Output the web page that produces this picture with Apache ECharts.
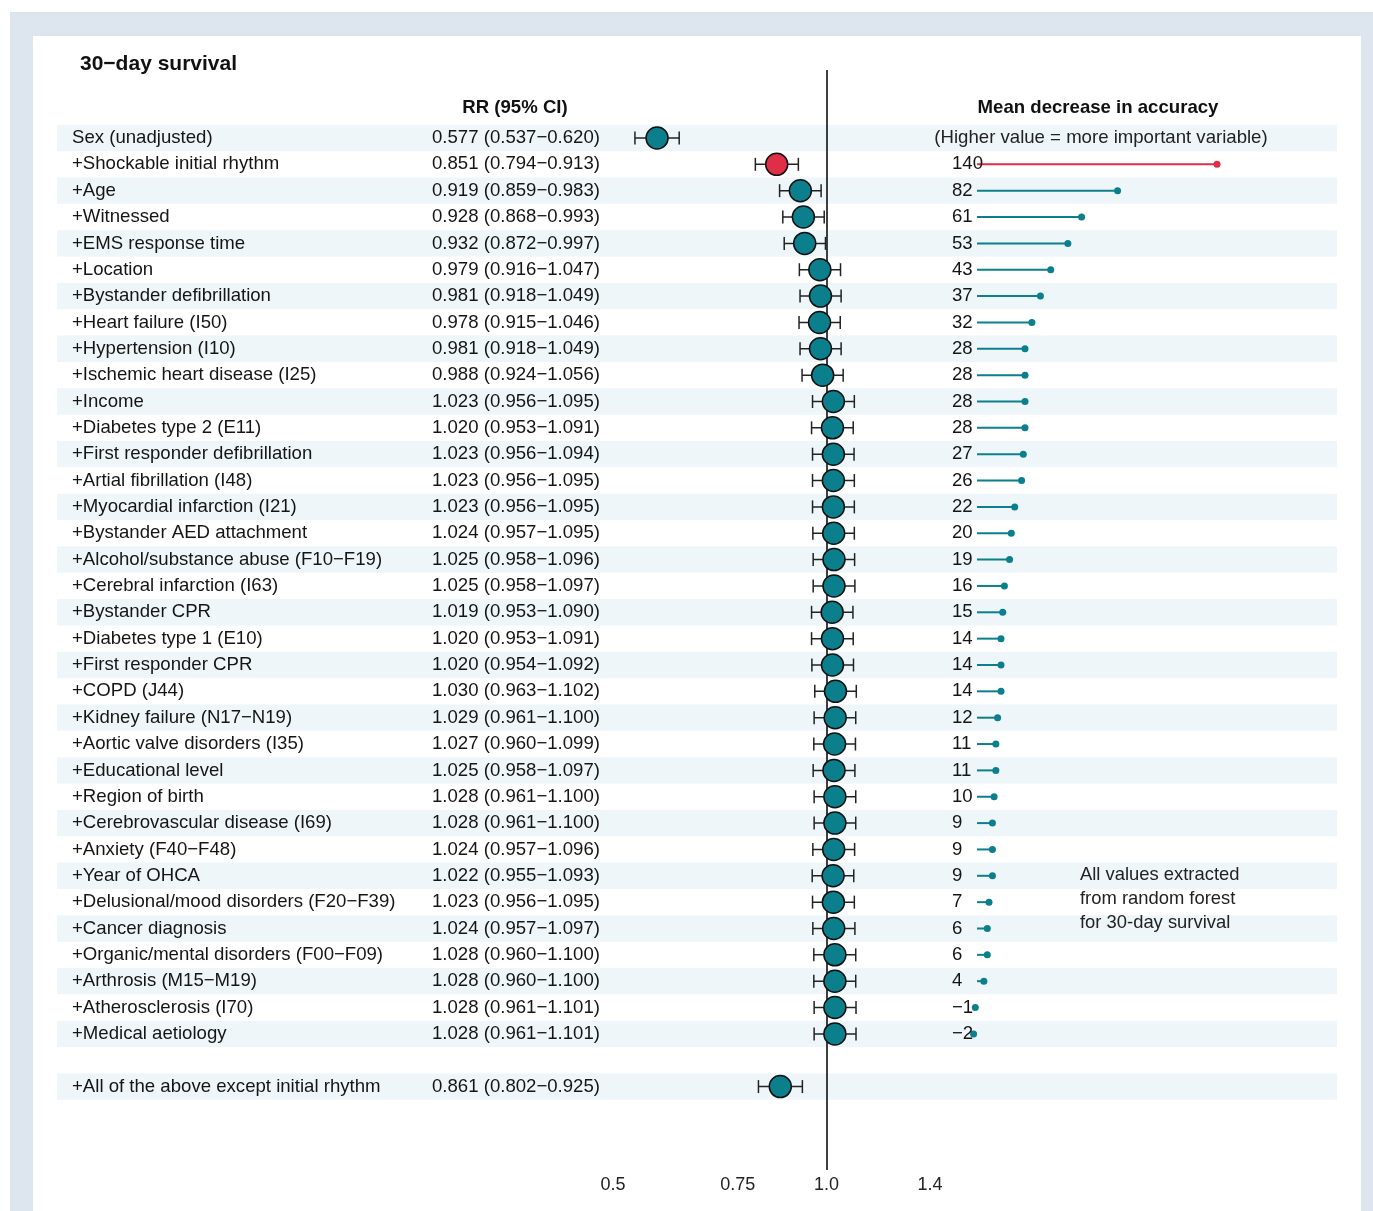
<!DOCTYPE html>
<html>
<head>
<meta charset="utf-8">
<script src="https://cdn.jsdelivr.net/npm/echarts@6/dist/echarts.min.js"></script>
<style>
html,body{margin:0;padding:0;background:#fff;}
#chart{width:1373px;height:1211px;}
</style>
</head>
<body>
<div id="chart"></div>
<script>
// ---------------- DATA ----------------
const variables = [
  'Sex (unadjusted)', '+Shockable initial rhythm', '+Age', '+Witnessed', '+EMS response time',
  '+Location', '+Bystander defibrillation', '+Heart failure (I50)', '+Hypertension (I10)',
  '+Ischemic heart disease (I25)', '+Income', '+Diabetes type 2 (E11)', '+First responder defibrillation',
  '+Artial fibrillation (I48)', '+Myocardial infarction (I21)', '+Bystander AED attachment',
  '+Alcohol/substance abuse (F10\u2212F19)', '+Cerebral infarction (I63)', '+Bystander CPR',
  '+Diabetes type 1 (E10)', '+First responder CPR', '+COPD (J44)', '+Kidney failure (N17\u2212N19)',
  '+Aortic valve disorders (I35)', '+Educational level', '+Region of birth',
  '+Cerebrovascular disease (I69)', '+Anxiety (F40\u2212F48)', '+Year of OHCA',
  '+Delusional/mood disorders (F20\u2212F39)', '+Cancer diagnosis',
  '+Organic/mental disorders (F00\u2212F09)', '+Arthrosis (M15\u2212M19)', '+Atherosclerosis (I70)',
  '+Medical aetiology'
];
const rrEstimate = [0.577,0.851,0.919,0.928,0.932,0.979,0.981,0.978,0.981,0.988,1.023,1.020,1.023,1.023,1.023,1.024,1.025,1.025,1.019,1.020,1.020,1.030,1.029,1.027,1.025,1.028,1.028,1.024,1.022,1.023,1.024,1.028,1.028,1.028,1.028];
const rrLower    = [0.537,0.794,0.859,0.868,0.872,0.916,0.918,0.915,0.918,0.924,0.956,0.953,0.956,0.956,0.956,0.957,0.958,0.958,0.953,0.953,0.954,0.963,0.961,0.960,0.958,0.961,0.961,0.957,0.955,0.956,0.957,0.960,0.960,0.961,0.961];
const rrUpper    = [0.620,0.913,0.983,0.993,0.997,1.047,1.049,1.046,1.049,1.056,1.095,1.091,1.094,1.095,1.095,1.095,1.096,1.097,1.090,1.091,1.092,1.102,1.100,1.099,1.097,1.100,1.100,1.096,1.093,1.095,1.097,1.100,1.100,1.101,1.101];
const meanDecreaseAccuracy = [null,140,82,61,53,43,37,32,28,28,28,28,27,26,22,20,19,16,15,14,14,14,12,11,11,10,9,9,9,7,6,6,4,-1,-2];

const combinedLabel = '+All of the above except initial rhythm';
const combinedRR = [0.861, 0.802, 0.925];   // estimate, lower, upper

const highlightedVariable = '+Shockable initial rhythm';
const rrTicks = [0.5, 0.75, 1.0, 1.4];
const rrTickLabels = ['0.5', '0.75', '1.0', '1.4'];

// ---------------- BUILD ----------------
const TEAL = '#0b7f8c', RED = '#e02d48', INK = '#111';
const FONT = '"Liberation Sans", Arial, Helvetica, sans-serif';
const BODY = '18.6px ' + FONT;
const fmt = v => v.toFixed(3);
const minus = s => String(s).replace('-', '\u2212');

const allLabels = variables.concat([combinedLabel]);
const allRR = rrEstimate.concat([combinedRR[0]]);
const allLo = rrLower.concat([combinedRR[1]]);
const allHi = rrUpper.concat([combinedRR[2]]);
// row index on the vertical scale (one blank row before the combined model)
const rowOf = i => (i < variables.length ? i : i + 1);

const tableData = allLabels.map((_, i) => [0, rowOf(i)]);
const forestData = allRR.map((v, i) => [v, rowOf(i), allLo[i], allHi[i]]);
const mdaData = [];
meanDecreaseAccuracy.forEach((v, i) => { if (v !== null) mdaData.push([v, rowOf(i), i]); });

const yCommon = { type: 'value', inverse: true, min: -2.58, max: 39.165, show: false };
const ROW_H = 26.35;

const option = {
  animation: false,
  backgroundColor: '#fff',
  grid: [
    { left: 57, width: 1280, top: 70, height: 1100 },
    { left: 560, width: 400, top: 70, height: 1100 },
    { left: 960, width: 377, top: 70, height: 1100 }
  ],
  xAxis: [
    { gridIndex: 0, type: 'value', min: 0, max: 1, show: false },
    { gridIndex: 1, type: 'log', logBase: 10, min: 0.421, max: 1.5433,
      axisLine: { show: false }, splitLine: { show: false },
      axisTick: { show: true, inside: true, length: 3, customValues: rrTicks, lineStyle: { color: '#aaaaaa', width: 1 } },
      axisLabel: { show: true, customValues: rrTicks, margin: 6, fontSize: 18, color: '#222', fontFamily: FONT,
        formatter: v => { const k = rrTicks.findIndex(t => Math.abs(t - v) < 1e-6); return k >= 0 ? rrTickLabels[k] : ''; } } },
    { gridIndex: 2, type: 'value', min: -9.917, max: 210, show: false }
  ],
  yAxis: [
    Object.assign({ gridIndex: 0 }, yCommon),
    Object.assign({ gridIndex: 1 }, yCommon),
    Object.assign({ gridIndex: 2 }, yCommon)
  ],
  graphic: { elements: [
    { type: 'rect', z: -20, shape: { x: 10, y: 12, width: 1363, height: 1199 }, style: { fill: '#dde6ef' }, silent: true },
    { type: 'rect', z: -19, shape: { x: 33, y: 36, width: 1328, height: 1175 }, style: { fill: '#ffffff' }, silent: true },
    { type: 'text', z: 50, x: 80, y: 64, style: { text: '30\u2212day survival', font: 'bold 21px ' + FONT, fill: INK, align: 'left', verticalAlign: 'middle' } },
    { type: 'text', z: 50, x: 515, y: 108, style: { text: 'RR (95% CI)', font: 'bold 18.6px ' + FONT, fill: INK, align: 'center', verticalAlign: 'middle' } },
    { type: 'text', z: 50, x: 1098, y: 108, style: { text: 'Mean decrease in accuracy', font: 'bold 18.6px ' + FONT, fill: INK, align: 'center', verticalAlign: 'middle' } },
    { type: 'text', z: 50, x: 1101, y: 138, style: { text: '(Higher value = more important variable)', font: BODY, fill: '#222', align: 'center', verticalAlign: 'middle' } },
    { type: 'text', z: 50, x: 1080, y: 863, style: { text: 'All values extracted\nfrom random forest\nfor 30-day survival', font: '18.4px ' + FONT, lineHeight: 24, fill: '#222', align: 'left', verticalAlign: 'top' } }
  ]},
  series: [
    { // row bands + text columns
      type: 'custom', xAxisIndex: 0, yAxisIndex: 0, z: 1, silent: true,
      data: tableData,
      renderItem: function (params, api) {
        const i = params.dataIndex;
        const row = api.value(1);
        const y = api.coord([0, row])[1];
        const cs = params.coordSys;
        const children = [];
        if (row % 2 === 0) {
          children.push({ type: 'rect', shape: { x: cs.x, y: y - ROW_H / 2, width: cs.width, height: ROW_H }, style: { fill: '#eff6f9' } });
        }
        children.push({ type: 'text', x: cs.x + 15, y: y, style: { text: allLabels[i], font: BODY, fill: '#151515', align: 'left', verticalAlign: 'middle' } });
        children.push({ type: 'text', x: cs.x + 375, y: y, style: { text: fmt(allRR[i]) + ' (' + fmt(allLo[i]) + '\u2212' + fmt(allHi[i]) + ')', font: BODY, fill: '#151515', align: 'left', verticalAlign: 'middle' } });
        return { type: 'group', children: children };
      }
    },
    { // forest plot
      type: 'custom', xAxisIndex: 1, yAxisIndex: 1, z: 5, silent: true,
      data: forestData,
      renderItem: function (params, api) {
        const i = params.dataIndex;
        const row = api.value(1);
        const c = api.coord([api.value(0), row]);
        const xl = api.coord([api.value(2), row])[0];
        const xh = api.coord([api.value(3), row])[0];
        const y = c[1];
        const col = allLabels[i] === highlightedVariable ? RED : TEAL;
        const ls = { stroke: '#222', lineWidth: 1.5 };
        return { type: 'group', children: [
          { type: 'line', shape: { x1: xl, y1: y, x2: xh, y2: y }, style: ls },
          { type: 'line', shape: { x1: xl, y1: y - 6.5, x2: xl, y2: y + 6.5 }, style: ls },
          { type: 'line', shape: { x1: xh, y1: y - 6.5, x2: xh, y2: y + 6.5 }, style: ls },
          { type: 'circle', shape: { cx: c[0], cy: y, r: 11 }, style: { fill: col, stroke: '#111', lineWidth: 1.5 } }
        ]};
      },
      markLine: {
        silent: true, symbol: 'none', label: { show: false },
        lineStyle: { color: '#000', width: 1.5, type: 'solid' },
        data: [{ xAxis: 1 }]
      }
    },
    { // mean decrease in accuracy lollipops
      type: 'custom', xAxisIndex: 2, yAxisIndex: 2, z: 5, silent: true,
      data: mdaData,
      renderItem: function (params, api) {
        const v = api.value(0), row = api.value(1), src = api.value(2);
        const p0 = api.coord([0, row]);
        const p1 = api.coord([v, row]);
        const col = variables[src] === highlightedVariable ? RED : TEAL;
        return { type: 'group', children: [
          { type: 'line', shape: { x1: p0[0], y1: p0[1], x2: p1[0], y2: p1[1] }, style: { stroke: col, lineWidth: 2 } },
          { type: 'circle', shape: { cx: p1[0], cy: p1[1], r: 3.5 }, style: { fill: col } },
          { type: 'text', x: params.coordSys.x - 8, y: p0[1], style: { text: minus(v), font: BODY, fill: '#151515', align: 'left', verticalAlign: 'middle' } }
        ]};
      }
    }
  ]
};

const chart = echarts.init(document.getElementById('chart'), null, { renderer: 'canvas' });
chart.setOption(option);
</script>
</body>
</html>
